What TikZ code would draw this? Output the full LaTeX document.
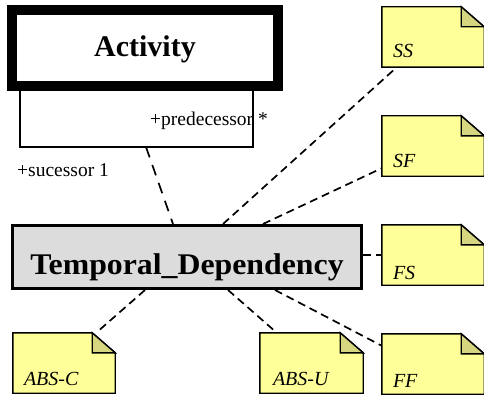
\documentclass[tikz,border=0pt]{standalone}
\usepackage{fontspec}
\setmainfont{Liberation Serif}
\usetikzlibrary{calc}
\definecolor{notefill}{RGB}{255,255,153}
\definecolor{foldfill}{RGB}{214,214,128}
\definecolor{tdfill}{RGB}{220,220,220}
\begin{document}
\begin{tikzpicture}[x=1pt,y=-1pt,
  classbox/.style={draw=black, inner sep=0pt, font=\bfseries\fontsize{30}{30}\selectfont},
  notebox/.style={minimum width=102pt, minimum height=60pt, inner sep=0pt},
  notetext/.style={anchor=base west, inner sep=0pt, font=\itshape\fontsize{20}{20}\selectfont},
  role/.style={anchor=base west, inner sep=0pt, font=\fontsize{19.5}{19.5}\selectfont},
  conn/.style={dashed, dash pattern=on 8pt off 5pt, line width=1.7pt},
  assoc/.style={line width=1.2pt}
]
\useasboundingbox (0,0) rectangle (484,401);

% classes
\node[classbox, line width=9.5pt, fill=white, minimum width=266pt, minimum height=76pt] (act) at (145,48) {\raisebox{-9pt}[0pt][0pt]{Activity}};
\node[classbox, line width=3pt, fill=tdfill, minimum width=349pt, minimum height=63pt] (td) at (187,257) {\raisebox{-17pt}[0pt][0pt]{\scalebox{1.06}[1]{Temporal\_Dependency}}};

% notes (anchors)
\node[notebox] (ss) at (433,37) {};
\node[notebox] (sf) at (433,146) {};
\node[notebox] (fs) at (433,255) {};
\node[notebox] (ff) at (433,364) {};
\node[notebox] (absc) at (64,363) {};
\node[notebox, minimum width=103pt] (absu) at (311.5,363) {};

% self association
\coordinate (sl) at (20,147);
\coordinate (sr) at (253,147);
\coordinate (sm) at (146,147);
\draw[assoc] (act.south -| sl) -- (sl) -- (sr) -- (act.south -| sr);
\node[role] (pred) at (150,125) {+predecessor *};
\node[role] (succ) at (17,176) {+sucessor 1};
\draw[conn, dash pattern=on 11pt off 8pt] (sm) -- ([xshift=162pt]td.north west);

% connectors to notes
\draw[conn] ([xshift=212pt]td.north west) -- ([xshift=15pt]ss.south west);
\draw[conn] ([xshift=252pt]td.north west) -- ([yshift=8pt]sf.south west);
\draw[conn] ([yshift=2pt]td.east) -- ([yshift=2pt]td.east -| fs.west);
\draw[conn] ([xshift=264pt]td.south west) -- ([yshift=-12pt]ff.north west);
\draw[conn] ([xshift=217pt]td.south west) -- ([xshift=17pt]absu.north west);
\draw[conn] ([xshift=134pt]td.south west) -- ([xshift=-19pt]absc.north east);

% note shapes
\foreach \n in {ss,sf,fs,ff,absc,absu}{
  \filldraw[fill=notefill, draw=black, line width=1.4pt, line join=miter]
    (\n.north west) -- ([xshift=-23pt]\n.north east) -- ([yshift=-20pt]\n.north east)
    -- (\n.south east) -- (\n.south west) -- cycle;
  \filldraw[fill=foldfill, draw=black, line width=1.4pt, line join=miter]
    ([xshift=-23pt]\n.north east) -- ([xshift=-23pt,yshift=-20pt]\n.north east)
    -- ([yshift=-20pt]\n.north east) -- cycle;
}
\node[notetext] (tss) at ([xshift=11pt,yshift=10pt]ss.south west) {SS};
\node[notetext] (tsf) at ([xshift=11pt,yshift=9pt]sf.south west) {SF};
\node[notetext] (tfs) at ([xshift=11pt,yshift=6pt]fs.south west) {FS};
\node[notetext] (tff) at ([xshift=11pt,yshift=7pt]ff.south west) {FF};
\node[notetext] (tabsc) at ([xshift=11pt,yshift=8pt]absc.south west) {ABS-C};
\node[notetext] (tabsu) at ([xshift=13pt,yshift=8pt]absu.south west) {ABS-U};
\end{tikzpicture}
\end{document}
